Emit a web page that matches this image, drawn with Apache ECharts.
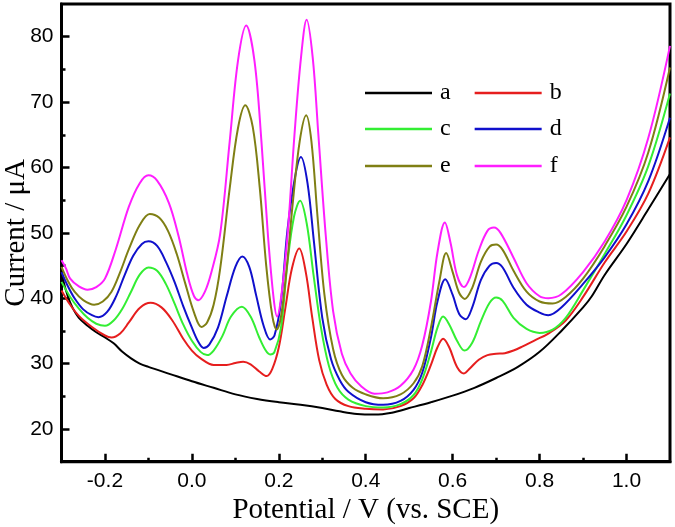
<!DOCTYPE html>
<html>
<head>
<meta charset="utf-8">
<script src="https://cdn.jsdelivr.net/npm/echarts@6/dist/echarts.min.js"></script>
<style>html,body{margin:0;padding:0;background:#fff}#c{width:675px;height:527px}</style>
</head>
<body>
<div id="c"></div>
<script>
const seriesNames = ['a', 'b', 'c', 'd', 'e', 'f'];
const seriesColors = ['#000000', '#e61e1e', '#33ee33', '#1010cc', '#7f7f14', '#ff1eff'];
const xMajorTicks = [-0.2, 0.0, 0.2, 0.4, 0.6, 0.8, 1.0];
const xMinorTicks = [-0.1, 0.1, 0.3, 0.5, 0.7, 0.9];
const yMajorTicks = [20, 30, 40, 50, 60, 70, 80];
const yMinorTicks = [25, 35, 45, 55, 65, 75];

const curveA = [[-0.300,44.5],[-0.295,42.5],[-0.285,40.2],[-0.275,38.6],[-0.26,37.0],[-0.24,35.8],[-0.22,34.8],[-0.20,34.0],[-0.18,33.1],[-0.16,31.8],[-0.14,30.8],[-0.12,30.0],[-0.10,29.5],[-0.05,28.4],[0.00,27.3],[0.05,26.3],[0.10,25.3],[0.15,24.6],[0.20,24.1],[0.25,23.7],[0.30,23.2],[0.34,22.7],[0.38,22.3],[0.42,22.2],[0.46,22.5],[0.50,23.2],[0.55,24.1],[0.60,25.1],[0.65,26.3],[0.70,27.8],[0.75,29.5],[0.80,31.8],[0.85,35.0],[0.90,38.6],[0.92,40.3],[0.95,43.6],[1.00,48.3],[1.05,53.6],[1.10,59.0]];
const curveB = [[-0.300,41.2],[-0.28,39.0],[-0.26,37.3],[-0.23,35.6],[-0.20,34.3],[-0.185,34.0],[-0.165,34.6],[-0.145,36.3],[-0.12,38.5],[-0.095,39.3],[-0.07,38.6],[-0.045,36.6],[-0.02,33.8],[0.00,32.0],[0.02,30.8],[0.05,29.8],[0.08,29.8],[0.10,30.1],[0.118,30.3],[0.135,29.9],[0.155,28.8],[0.172,28.1],[0.185,29.2],[0.20,32.5],[0.215,38.5],[0.23,44.5],[0.247,47.6],[0.262,44.0],[0.277,37.0],[0.293,30.5],[0.31,26.8],[0.33,24.6],[0.36,23.5],[0.40,23.1],[0.44,23.0],[0.48,23.5],[0.51,24.7],[0.53,26.7],[0.55,29.8],[0.565,32.5],[0.578,33.8],[0.592,32.5],[0.61,29.5],[0.626,28.5],[0.64,29.3],[0.66,30.6],[0.68,31.3],[0.70,31.5],[0.72,31.6],[0.74,32.0],[0.76,32.6],[0.79,33.6],[0.82,34.6],[0.86,36.6],[0.90,40.2],[0.95,45.5],[1.00,50.2],[1.05,56.0],[1.10,64.6]];
const curveC = [[-0.300,42.5],[-0.28,40.2],[-0.26,38.4],[-0.24,37.0],[-0.22,36.1],[-0.20,35.8],[-0.18,36.6],[-0.16,38.4],[-0.14,41.0],[-0.12,43.6],[-0.10,44.7],[-0.08,44.2],[-0.06,42.2],[-0.04,39.2],[-0.02,36.0],[0.00,33.5],[0.02,31.8],[0.035,31.3],[0.05,32.0],[0.07,34.2],[0.09,37.2],[0.115,38.7],[0.135,37.2],[0.155,34.0],[0.17,32.0],[0.18,31.4],[0.19,31.8],[0.205,35.5],[0.22,45.5],[0.235,52.5],[0.249,54.9],[0.264,51.5],[0.28,43.5],[0.297,35.5],[0.315,29.7],[0.335,26.3],[0.36,24.5],[0.40,23.5],[0.44,23.3],[0.48,23.8],[0.51,25.2],[0.53,27.6],[0.55,31.8],[0.565,35.5],[0.578,37.2],[0.592,36.0],[0.61,33.5],[0.627,32.0],[0.645,33.2],[0.665,36.5],[0.685,39.3],[0.70,40.1],[0.715,39.6],[0.74,37.0],[0.77,35.3],[0.80,34.7],[0.83,35.2],[0.86,37.0],[0.90,41.2],[0.95,46.8],[1.00,52.7],[1.05,60.2],[1.10,71.3]];
const curveD = [[-0.300,44.0],[-0.285,41.8],[-0.27,40.0],[-0.25,38.3],[-0.23,37.4],[-0.215,37.1],[-0.195,37.9],[-0.175,40.2],[-0.155,43.5],[-0.135,46.5],[-0.115,48.3],[-0.10,48.7],[-0.08,48.0],[-0.06,45.6],[-0.04,42.5],[-0.02,38.8],[0.00,35.5],[0.015,33.3],[0.027,32.4],[0.04,32.9],[0.06,35.5],[0.08,40.3],[0.10,44.8],[0.116,46.4],[0.132,44.8],[0.148,40.4],[0.165,35.8],[0.18,33.7],[0.19,34.3],[0.205,39.5],[0.22,50.5],[0.238,58.8],[0.251,61.6],[0.266,57.6],[0.281,48.5],[0.30,37.0],[0.32,30.7],[0.34,27.5],[0.36,25.7],[0.40,24.1],[0.44,23.7],[0.48,24.3],[0.51,26.0],[0.53,28.6],[0.55,34.0],[0.565,39.5],[0.583,42.9],[0.60,40.5],[0.615,37.6],[0.63,36.8],[0.645,38.6],[0.665,42.8],[0.685,45.0],[0.70,45.4],[0.715,44.7],[0.74,41.6],[0.77,39.0],[0.80,37.8],[0.82,37.4],[0.85,38.6],[0.90,42.2],[0.95,46.3],[1.00,51.3],[1.05,57.9],[1.10,67.6]];
const curveE = [[-0.300,44.8],[-0.285,42.6],[-0.27,41.0],[-0.25,39.7],[-0.225,39.0],[-0.205,39.5],[-0.185,41.0],[-0.165,44.0],[-0.145,47.5],[-0.12,51.2],[-0.097,52.9],[-0.075,52.3],[-0.055,50.3],[-0.035,46.8],[-0.015,42.2],[0.005,37.8],[0.022,35.6],[0.035,36.3],[0.05,39.0],[0.065,44.5],[0.087,56.8],[0.106,66.0],[0.123,69.5],[0.14,66.2],[0.156,57.0],[0.171,45.0],[0.185,37.3],[0.195,35.2],[0.205,37.2],[0.218,44.5],[0.232,54.5],[0.248,64.0],[0.263,68.0],[0.275,64.0],[0.289,52.5],[0.305,40.5],[0.325,32.2],[0.345,28.3],[0.37,26.3],[0.40,25.3],[0.44,24.7],[0.48,25.3],[0.51,27.0],[0.53,29.6],[0.55,35.5],[0.57,42.8],[0.585,46.9],[0.60,44.0],[0.615,40.8],[0.628,39.9],[0.645,41.6],[0.665,45.6],[0.685,47.9],[0.70,48.2],[0.715,47.4],[0.74,44.2],[0.77,41.0],[0.80,39.5],[0.83,39.2],[0.86,40.2],[0.90,43.0],[0.95,48.0],[1.00,54.0],[1.05,62.3],[1.10,75.3]];
const curveF = [[-0.300,45.8],[-0.29,44.6],[-0.28,43.0],[-0.26,41.8],[-0.24,41.3],[-0.22,41.7],[-0.20,43.0],[-0.175,47.5],[-0.145,54.0],[-0.12,57.6],[-0.10,58.8],[-0.08,58.0],[-0.053,54.6],[-0.031,49.6],[-0.01,43.5],[0.005,40.3],[0.015,39.7],[0.03,41.0],[0.045,44.0],[0.065,49.8],[0.087,64.0],[0.106,76.3],[0.125,81.7],[0.144,76.3],[0.16,64.0],[0.175,49.6],[0.188,40.0],[0.196,37.2],[0.205,40.0],[0.22,49.6],[0.236,65.0],[0.251,76.8],[0.264,82.6],[0.278,76.8],[0.291,65.0],[0.308,49.6],[0.325,38.0],[0.345,31.5],[0.365,28.5],[0.39,26.5],[0.42,25.4],[0.45,25.6],[0.48,26.6],[0.51,29.1],[0.53,32.8],[0.55,39.5],[0.565,47.0],[0.582,51.6],[0.595,48.5],[0.61,43.5],[0.626,41.7],[0.64,43.2],[0.66,47.3],[0.68,50.3],[0.695,50.8],[0.71,50.0],[0.74,46.2],[0.77,42.3],[0.80,40.3],[0.82,40.0],[0.85,40.6],[0.90,44.0],[0.95,48.7],[1.00,55.0],[1.05,64.5],[1.10,78.6]];
const curves = [curveA, curveB, curveC, curveD, curveE, curveF];

const chart = echarts.init(document.getElementById('c'), null, {renderer: 'canvas'});
const sans = 'Liberation Sans, Arial, sans-serif';
const serif = 'Liberation Serif, Times New Roman, serif';

function legendRow(names, top) {
  return {
    data: names, left: 360, top: top, orient: 'horizontal',
    icon: 'rect', itemWidth: 67, itemHeight: 2.5, itemGap: 24,
    textStyle: {fontFamily: serif, fontSize: 24, color: '#000', padding: [0, 0, 0, 3], lineHeight: 24},
    selectedMode: false
  };
}

const option = {
  animation: false,
  backgroundColor: '#fff',
  color: seriesColors,
  grid: {left: 61.5, right: 5, top: 4, bottom: 65.3, show: true, borderColor: '#000', borderWidth: 3, backgroundColor: 'transparent', containLabel: false, outerBoundsMode: 'none'},
  legend: [legendRow(['a', 'b'], 76), legendRow(['c', 'd'], 112), legendRow(['e', 'f'], 149)],
  xAxis: [{
    type: 'value', min: -0.3, max: 1.1, position: 'bottom',
    name: 'Potential / V (vs. SCE)', nameLocation: 'middle', nameGap: 34, nameMoveOverlap: false,
    nameTextStyle: {fontFamily: serif, fontSize: 29, color: '#000'},
    axisLine: {show: true, onZero: false, lineStyle: {color: '#000', width: 3}},
    axisTick: {show: true, inside: true, length: 8, lineStyle: {color: '#000', width: 2.5}, customValues: xMajorTicks},
    axisLabel: {customValues: xMajorTicks, margin: 9, fontFamily: sans, fontSize: 21, color: '#000', formatter: v => v.toFixed(1)},
    splitLine: {show: false}
  }, {
    type: 'value', min: -0.3, max: 1.1, position: 'bottom',
    axisLine: {show: false, onZero: false},
    axisTick: {show: true, inside: true, length: 4, lineStyle: {color: '#000', width: 2.5}, customValues: xMinorTicks},
    axisLabel: {show: false}, splitLine: {show: false}
  }],
  yAxis: [{
    type: 'value', min: 15, max: 85, position: 'left',
    name: 'Current / μA', nameLocation: 'middle', nameGap: 31, nameMoveOverlap: false,
    nameTextStyle: {fontFamily: serif, fontSize: 29, color: '#000'},
    axisLine: {show: true, onZero: false, lineStyle: {color: '#000', width: 3}},
    axisTick: {show: true, inside: true, length: 8, lineStyle: {color: '#000', width: 2.5}, customValues: yMajorTicks},
    axisLabel: {customValues: yMajorTicks, margin: 8, fontFamily: sans, fontSize: 21, color: '#000'},
    splitLine: {show: false}
  }, {
    type: 'value', min: 15, max: 85, position: 'left',
    axisLine: {show: false, onZero: false},
    axisTick: {show: true, inside: true, length: 4, lineStyle: {color: '#000', width: 2.5}, customValues: yMinorTicks},
    axisLabel: {show: false}, splitLine: {show: false}
  }],
  series: seriesNames.map((n, i) => ({
    name: n, type: 'line', data: curves[i], xAxisIndex: 0, yAxisIndex: 0,
    showSymbol: false, smooth: 0.35, lineStyle: {width: 2, color: seriesColors[i]},
    itemStyle: {color: seriesColors[i]}, clip: true
  }))
};
chart.setOption(option);
</script>
</body>
</html>
